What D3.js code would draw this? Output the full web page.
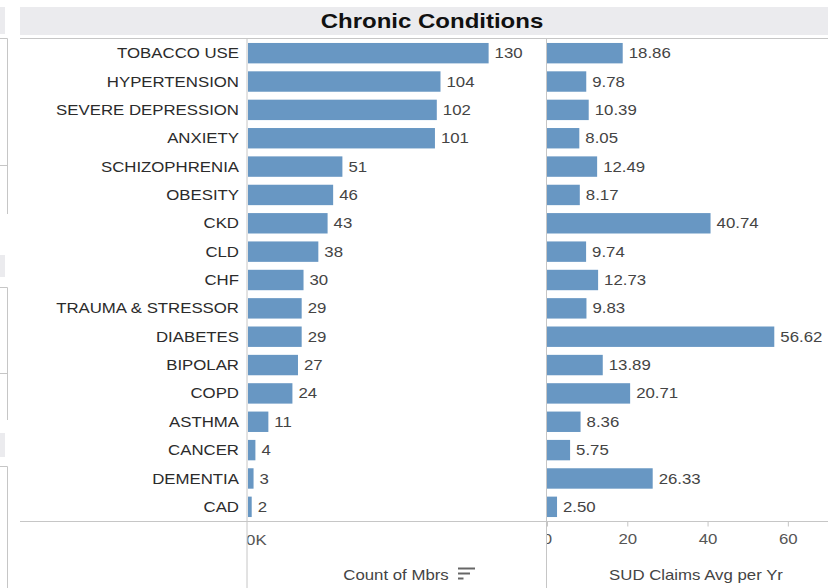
<!DOCTYPE html>
<html>
<head>
<meta charset="utf-8">
<script src="https://cdn.jsdelivr.net/npm/d3@7"></script>
<style>
    body { margin: 0; background: #fff; }
    svg text { font-family: "Liberation Sans", Arial, sans-serif; }
</style>
</head>
<body>
<div id="chart"></div>
<script>
// data
const conditions = ["TOBACCO USE", "HYPERTENSION", "SEVERE DEPRESSION", "ANXIETY", "SCHIZOPHRENIA",
    "OBESITY", "CKD", "CLD", "CHF", "TRAUMA & STRESSOR", "DIABETES", "BIPOLAR", "COPD",
    "ASTHMA", "CANCER", "DEMENTIA", "CAD"];
const memberCounts = [130, 104, 102, 101, 51, 46, 43, 38, 30, 29, 29, 27, 24, 11, 4, 3, 2];
const claimsAvg = [18.86, 9.78, 10.39, 8.05, 12.49, 8.17, 40.74, 9.74, 12.73, 9.83, 56.62,
    13.89, 20.71, 8.36, 5.75, 26.33, 2.50];
const countTicks = [0];
const claimTicks = [0, 20, 40, 60];

class ChronicVis {
    constructor(parentElement) {
        this.parentElement = parentElement;
        this.rows = conditions.map((c, i) => ({ condition: c, count: memberCounts[i], claims: claimsAvg[i] }));
        this.initVis();
    }

    initVis() {
        let vis = this;

        vis.width = 828;
        vis.height = 588;
        vis.sx = 1.2; // the screenshot's text is stretched sideways
        vis.lineColor = "#c6c6c6";
        vis.barColor = "#6897c3";
        vis.axisY = 521.5;

        vis.svg = d3.select(`#${vis.parentElement}`).append("svg")
            .attr("width", vis.width)
            .attr("height", vis.height);

        vis.yScale = d3.scaleBand().domain(conditions).range([39, 521]).paddingInner(0.28).paddingOuter(0.14);
        vis.xCount = d3.scaleLinear().domain([0, 161]).range([248, 546]);
        vis.xClaims = d3.scaleLinear().domain([0, 70]).range([547, 828]);

        let defs = vis.svg.append("defs");
        defs.append("clipPath").attr("id", "clip-left")
            .append("rect").attr("x", 247.5).attr("y", 0).attr("width", 299).attr("height", vis.height);
        defs.append("clipPath").attr("id", "clip-right")
            .append("rect").attr("x", 547).attr("y", 0).attr("width", 290).attr("height", vis.height);
        defs.append("clipPath").attr("id", "clip-edge")
            .append("rect").attr("x", 0).attr("y", 0).attr("width", 6).attr("height", vis.height);

        vis.drawFrame();
        vis.updateVis();
    }

    drawFrame() {
        let vis = this;

        // bits of the neighbouring dashboard panels on the left edge
        [[7, 27], [255, 22], [433, 24]].forEach(b => {
            vis.svg.append("rect").attr("x", 0).attr("y", b[0]).attr("width", 5).attr("height", b[1]).attr("fill", "#ebebee");
        });
        [[38.5, 214], [287.5, 420], [466.5, 588]].forEach(s => {
            vis.svg.append("line").attr("x1", 7.5).attr("x2", 7.5).attr("y1", s[0]).attr("y2", s[1]).attr("stroke", vis.lineColor);
            vis.svg.append("line").attr("x1", 0).attr("x2", 7.5).attr("y1", s[0]).attr("y2", s[0]).attr("stroke", vis.lineColor);
        });
        [165.5, 373.5].forEach(y => {
            vis.svg.append("line").attr("x1", 0).attr("x2", 7.5).attr("y1", y).attr("y2", y).attr("stroke", vis.lineColor);
        });
        vis.svg.append("text")
            .attr("clip-path", "url(#clip-edge)")
            .attr("transform", `translate(5.5, 378) scale(${vis.sx}, 1)`)
            .attr("text-anchor", "end")
            .attr("font-size", 14)
            .attr("fill", "#333")
            .text("5");

        // title band
        vis.svg.append("rect").attr("x", 20).attr("y", 7).attr("width", 808).attr("height", 28).attr("fill", "#ebebee");
        vis.svg.append("text")
            .attr("transform", `translate(432, 27.5) scale(${vis.sx}, 1)`)
            .attr("text-anchor", "middle")
            .attr("font-size", 20)
            .attr("font-weight", "bold")
            .attr("fill", "#111")
            .text("Chronic Conditions");

        vis.svg.append("line").attr("x1", 20).attr("x2", vis.width).attr("y1", 38.5).attr("y2", 38.5).attr("stroke", vis.lineColor);
        vis.svg.append("line").attr("x1", 20).attr("x2", vis.width).attr("y1", vis.axisY).attr("y2", vis.axisY).attr("stroke", vis.lineColor);
        [247, 546.5].forEach(x => {
            vis.svg.append("line").attr("x1", x).attr("x2", x).attr("y1", 38.5).attr("y2", vis.height).attr("stroke", vis.lineColor);
        });
    }

    updateVis() {
        let vis = this;
        let bh = vis.yScale.bandwidth();
        let mid = d => vis.yScale(d.condition) + bh / 2;

        // category labels
        vis.svg.append("g").selectAll("text")
            .data(vis.rows)
            .enter().append("text")
            .attr("transform", d => `translate(239, ${mid(d)}) scale(${vis.sx}, 1)`)
            .attr("dy", "0.36em")
            .attr("text-anchor", "end")
            .attr("font-size", 14)
            .attr("fill", "#2b2b2b")
            .text(d => d.condition);

        // two bar panes
        let panes = [
            { x: vis.xCount, key: "count", fmt: d3.format("d"), clip: "clip-left" },
            { x: vis.xClaims, key: "claims", fmt: d3.format(".2f"), clip: "clip-right" }
        ];

        panes.forEach(p => {
            let g = vis.svg.append("g").attr("clip-path", `url(#${p.clip})`);

            g.selectAll("rect")
                .data(vis.rows)
                .enter().append("rect")
                .attr("x", p.x(0))
                .attr("y", d => vis.yScale(d.condition))
                .attr("width", d => p.x(d[p.key]) - p.x(0))
                .attr("height", bh)
                .attr("fill", vis.barColor);

            g.selectAll("text")
                .data(vis.rows)
                .enter().append("text")
                .attr("transform", d => `translate(${p.x(d[p.key]) + 6}, ${mid(d)}) scale(${vis.sx}, 1)`)
                .attr("dy", "0.36em")
                .attr("font-size", 14)
                .attr("fill", "#444")
                .text(d => p.fmt(d[p.key]));
        });

        // axes
        let countAxis = d3.axisBottom(vis.xCount).tickValues(countTicks).tickSize(0).tickPadding(14)
            .tickFormat(d => d3.format(".0f")(d / 1000) + "K");
        let claimAxis = d3.axisBottom(vis.xClaims).tickValues(claimTicks).tickSize(5).tickPadding(8);

        let ga = vis.svg.append("g").attr("clip-path", "url(#clip-left)")
            .attr("transform", `translate(0, ${vis.axisY})`).call(countAxis);
        let gb = vis.svg.append("g").attr("clip-path", "url(#clip-right)")
            .attr("transform", `translate(0, ${vis.axisY})`).call(claimAxis);

        [ga, gb].forEach(g => {
            g.select(".domain").remove();
            g.selectAll(".tick line").attr("stroke", vis.lineColor);
            g.selectAll(".tick text")
                .attr("font-size", 14)
                .attr("font-family", null)
                .attr("fill", "#555")
                .attr("transform", `scale(${vis.sx}, 1)`);
        });
        ga.selectAll(".tick text").attr("text-anchor", "start").attr("x", -2);

        // axis titles
        vis.svg.append("text")
            .attr("transform", `translate(396, 580) scale(${vis.sx}, 1)`)
            .attr("text-anchor", "middle")
            .attr("font-size", 14)
            .attr("fill", "#444")
            .text("Count of Mbrs");
        [[475, 568.5], [470, 573.5], [463.5, 578.5]].forEach(l => {
            vis.svg.append("line").attr("x1", 458).attr("x2", l[0]).attr("y1", l[1]).attr("y2", l[1])
                .attr("stroke", "#666").attr("stroke-width", 2);
        });
        vis.svg.append("text")
            .attr("transform", `translate(696, 580) scale(${vis.sx}, 1)`)
            .attr("text-anchor", "middle")
            .attr("font-size", 14)
            .attr("fill", "#444")
            .text("SUD Claims Avg per Yr");
    }
}

new ChronicVis("chart");
</script>
</body>
</html>
